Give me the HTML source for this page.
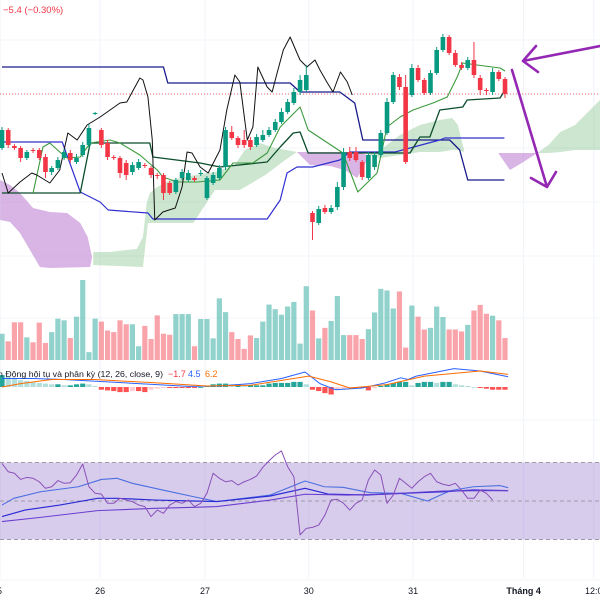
<!DOCTYPE html>
<html><head><meta charset="utf-8"><style>
html,body{margin:0;padding:0;background:#fff;}
svg{display:block;font-family:"Liberation Sans","Noto Sans CJK SC",sans-serif;}
</style></head><body>
<svg id="chart" width="600" height="600" viewBox="0 0 600 600" xmlns="http://www.w3.org/2000/svg">
<rect width="600" height="600" fill="#ffffff"/>
<g id="grid"></g>
<g id="clouds"></g>
<g id="lines"></g>
<g id="candles"></g>
<g id="volume"></g>
<g id="macd"></g>
<g id="rsi"></g>
<g id="axis"></g>
<text x="3" y="13" font-size="9.5" fill="#f23645">−5.4 (−0.30%)</text>
<g stroke="#9427b3" stroke-width="2.6" fill="none" stroke-linecap="round">
<path d="M600 46 L523 61 M523 61 L536 46 M523 61 L538 72"/>
<path d="M512 70 L547 187 M547 187 L531 178 M547 187 L556 172"/>
</g>
</svg>
<script>
const opens=[152,170,154,152,142,150,150,143,128,132,142,147,138,145,155,186,170,157,143,142,137,128,132,135,132,125,125,117,108,122,120,122,126,102,117,122,133,168,162,160,160,155,160,165,170,178,188,197,208,210,87,77,92,88,93,113,148,148,138,122,133,145,167,198,223,213,205,232,220,207,227,250,263,247,235,232,240,222,210,208,228,221];
const closes=[170,155,152,142,148,149,142,128,132,140,148,140,142,155,172,187,155,143,142,127,125,135,138,134,125,124,107,107,120,128,127,120,127,122,125,132,170,162,155,155,153,163,165,170,178,188,198,208,220,225,78,91,88,92,113,148,142,140,123,145,145,167,198,225,213,138,232,220,207,227,250,263,247,235,232,240,225,210,209,228,221,206];
const highs=[173,172,156,154,150,152,152,146,134,143,151,150,146,158,176,188,172,160,145,144,140,138,141,137,134,127,127,119,122,131,130,124,130,124,128,135,173,174,164,170,163,166,170,173,181,192,201,212,225,235,89,94,95,95,118,152,153,153,140,148,148,170,202,228,226,225,236,235,222,230,253,266,265,250,238,243,258,225,212,232,230,223];
const lows=[150,152,150,138,140,147,140,122,125,130,140,137,136,143,152,185,152,140,140,122,120,125,130,132,122,121,100,105,106,120,118,118,124,100,115,120,130,160,152,152,150,153,158,163,168,176,186,195,205,208,60,75,86,86,90,110,139,138,120,120,130,143,165,196,210,136,203,218,205,205,225,248,245,233,230,230,222,205,205,205,219,202];
const volumes=[80,57,115,115,69,54,114,52,85,126,121,67,132,244,24,126,117,90,85,121,109,109,42,104,64,136,80,77,140,140,140,42,125,125,66,188,146,85,64,34,75,67,117,169,155,138,163,177,50,225,151,66,98,119,195,76,76,76,64,94,145,217,212,157,209,38,166,132,93,98,163,131,93,93,87,107,151,168,141,135,121,67];
const macdHist=[35,30,25,20,18,15,12,10,8,8,5,5,8,10,8,3,-8,-10,-12,-15,-15,-12,-12,-15,-8,-5,-3,-3,-3,-3,-3,-3,0,3,8,10,10,8,8,5,5,5,5,10,12,12,12,15,15,8,-8,-12,-18,-22,-8,-5,-3,-3,-3,-10,-3,3,8,12,15,15,5,12,15,15,12,15,15,8,5,3,0,-3,-5,-8,-8,-8];
const macdT=[0,5,10,20,30,35,40,45,48.8,51.2,53.7,58,61.7,64.2,65.4,66.7,72.8,77,81.5];
const macdVals=[25,25,22,12,2,3,10,25,44,10,-8,-3,12,27,22,32,54,47,30];
const signalT=[0,3,8,15,25,33,40,49.4,53,56,62,68,77,81.5];
const signalVals=[0,10,22,22,12,3,5,32,15,-3,7,32,47,37];
const rsiVals=[69.5,65.2,64.4,61.2,62.3,61.8,60,56.6,57.4,60.6,59.2,59.5,63.5,69.2,57.4,54,53.6,48.8,48.8,51.4,50.5,49.7,47.9,47.1,41.9,45.3,43.6,47.9,49.7,48.8,50.5,47.1,48.8,54,64.4,61.8,60,60.6,58.3,60,61.2,63,67.5,70.9,73.9,76,67.8,62.6,32.4,35.8,36.3,37.5,42.7,50.5,50.9,48.8,45.3,48.8,50.5,60.9,66.1,63.5,48.8,53.1,61.8,59.2,56.6,60,62.6,64.4,60,58.7,58,59.2,55.7,51.4,51.4,55.7,54,50.5];
const rsiMa1T=[0,1.9,6.2,12.3,16,18.5,21,25.9,30.9,34.6,43.2,48.8,51.9,54.9,59.3,64.2,68.5,72.2,75.9,80.2,81.5];
const rsiMa1=[47.9,51.4,54.8,57.4,61.2,61.8,59.2,55.7,52.2,49.7,53.1,60.4,57.4,57.1,54.3,54,50,55.4,57.4,58,56.9];
const rsiMa2T=[0,3.7,9.3,15.4,18.5,24.7,30.9,34.6,43.2,48.8,52.5,58.6,64.8,71,75.9,81.5];
const rsiMa2=[41.9,45.3,47.9,51.4,51.4,50.5,50,49.7,52.6,56.6,53.6,53.1,54,54.8,55.7,55.4];
const rsiMa3T=[0,6.2,15.4,24.7,30.9,34.6,43.2,48.8,55.6,61.7,71,81.5];
const rsiMa3=[39.3,41.5,45,46.2,46.7,47.1,50.5,53.5,53.1,53.6,55.2,55.4];
const navyT=[0,26,26.7,46.4,48,54.4,56.8,58.1,72.1,73.7,75,80.9];
const navyVals=[233,233,217,217,208,208,197,160,160,150,120,120];
const blueT=[0,9.7,12.6,15.8,17.1,23.5,24.3,42.7,44.8,45.9,47.5,50,54.4,56,63.3,70.5,71.3,80.9];
const blueVals=[158,158,108,98,90,87,81,81,100,127,133,133,140,148,148,160,162,162];
const kijunT=[0,12.6,14.2,23.8,24.3,31.9,35.1,42.7,44.8,46.9,48,49.3,65.7,67.3,68.9,70.5,74.2,74.9,80.2,81];
const kijunVals=[107,107,157,157,143,137,133,138,153,167,168,147,147,163,163,190,193,200,202,210];
const tenkanT=[5,6.6,7.7,9.3,10.5,12.6,14.2,17.4,19,22.2,25,25.9,28.2,31.4,35.1,37.2,40.4,42.7,44.8,46.4,48,49.3,54.9,57.3,60.4,62,64.1,66.2,69.4,71.7,73.3,74.2,76.5,80.2,81];
const tenkanVals=[107,153,157,148,142,143,157,160,157,145,130,123,118,118,120,137,137,147,173,183,193,170,147,108,127,173,183,190,197,203,223,237,235,232,229];
const lagT=[0,1,2.9,4.8,5.6,7.7,9.3,10.6,12.1,13.7,15.8,19,20.1,22.2,22.7,23.5,24.2,24.6,25.9,27.9,29,29.8,30.6,31.9,33.2,35.1,36.2,37.5,38.3,39.5,40.4,41.2,42.7,43.5,44.3,45.3,46.4,47.5,48,49.1,50.4,51.2,52.4,53.3,54.5,55.6,56.4];
const lagVals=[127,107,118,127,125,117,130,167,160,175,183,197,198,222,220,203,160,80,88,92,113,148,147,133,127,150,190,225,218,160,173,233,213,208,227,250,263,247,240,233,240,230,217,208,228,218,205];
const cloudP1T=[-0.3,1.3,2.9,5,7.7,10.5,12.6,13.8,14.5], cloudP1Top=[120,115,107,92,88,87,77,63,43];
const cloudP1BT=[-0.3,1.3,2.9,4.5,6.1,7.7,14.2,14.5], cloudP1Bot=[80,78,67,50,33,32,33,43];
const cloudG1T=[14.7,17.4,20.1,21.7,22.7,23.3,23.8,25,27.1,31.1,34.3,37.5,39.1,41.5,44,47.5], cloudG1Top=[48,48,50,51,63,97,107,113,120,125,128,135,150,157,152,148];
const cloudG1BT=[14.7,22.7,23.5,30.8,34.3,38.3,42.4,45.6,47.5], cloudG1Bot=[35,33,77,77,110,110,125,140,148];
const cloudP2T=[47.5,49.6,52.8,55.2,57.2,58.8], cloudP2Top=[148,148,148,148,148,145], cloudP2Bot=[148,135,134,130,122,140];
const cloudG2T=[58.8,60.9,64.1,67.3,70.5,72.5,73.4,74.4], cloudG2Top=[145,150,165,175,180,182,175,150], cloudG2Bot=[145,142,145,148,148,150,150,148];
const cloudP3T=[79.9,81.8,83.7,86.2], cloudP3Top=[147,147,147,147], cloudP3Bot=[147,130,137,147];
const cloudG3T=[86.2,88,89.9,92.3,94.7,96.3], cloudG3Top=[147,155,168,175,190,200], cloudG3Bot=[147,147,148,150,150,150];
const lastPrice=206;
const tickLabels=["5","26","27","30","31","Tháng 4","12:0"];
const tickTimes=[-0.3,15.8,32.7,49.4,66.2,84,95.3];

const NS="http://www.w3.org/2000/svg";
const xT=t=>2+t*6.21;
const yP=p=>300-p;
const yV=v=>360-v*0.328;
const yM=v=>387-v*0.34;
const yR=r=>501-(r-50)*1.925;
function mk(tag,attrs,parent){const e=document.createElementNS(NS,tag);for(const k in attrs)e.setAttribute(k,attrs[k]);parent.appendChild(e);return e;}
const G=id=>document.getElementById(id);

const grid=G('grid');
tickTimes.forEach(t=>{const l=mk('line',{x1:xT(t),x2:xT(t),y1:0,y2:578,stroke:'#f0f3fa','stroke-width':1},grid);

});
[40,94,148,202,256,318,420,580].forEach(y=>{const l=mk('line',{x1:0,x2:600,y1:y,y2:y,stroke:'#f3f5f9','stroke-width':1},grid);

});

const clouds=G('clouds');
function cloud(ts,top,bts,bot,fill,name){
  let d='M'+ts.map((t,i)=>xT(t)+' '+yP(top[i])).join(' L');
  for(let i=bts.length-1;i>=0;i--)d+=' L'+xT(bts[i])+' '+yP(bot[i]);
  const p=mk('path',{d:d+'Z',fill:fill},clouds);
  
  
}
const PUR='rgba(186,120,208,0.55)',GRN='rgba(120,190,130,0.38)';
cloud(cloudP1T,cloudP1Top,cloudP1BT,cloudP1Bot,PUR,'cloud-bearish-1');
cloud(cloudG1T,cloudG1Top,cloudG1BT,cloudG1Bot,GRN,'cloud-bullish-1');
cloud(cloudP2T,cloudP2Top,cloudP2T,cloudP2Bot,PUR,'cloud-bearish-2');
cloud(cloudG2T,cloudG2Top,cloudG2T,cloudG2Bot,GRN,'cloud-bullish-2');
cloud(cloudP3T,cloudP3Top,cloudP3T,cloudP3Bot,PUR,'cloud-bearish-3');
cloud(cloudG3T,cloudG3Top,cloudG3T,cloudG3Bot,GRN,'cloud-bullish-3');

const pl=mk('line',{x1:0,x2:600,y1:yP(lastPrice),y2:yP(lastPrice),stroke:'#f23645','stroke-width':0.8,'stroke-dasharray':'1 2'},G('lines'));



function poly(parent,ts,vals,ys,color,w,name){
  const p=mk('polyline',{points:ts.map((t,i)=>xT(t)+','+ys(vals[i])).join(' '),fill:'none',stroke:color,'stroke-width':w,'stroke-linejoin':'round'},parent);
  
  
}
const L=G('lines');
poly(L,navyT,navyVals,yP,'#1a1a8c',1.3,'upper-band-line');
poly(L,blueT,blueVals,yP,'#3030d0',1.2,'lower-band-line');
poly(L,kijunT,kijunVals,yP,'#0b4d2c',1.3,'kijun-line');
poly(L,tenkanT,tenkanVals,yP,'#3d9a3d',1.1,'tenkan-line');
poly(L,lagT,lagVals,yP,'#111111',1,'lagging-span');

const C=G('candles');
opens.forEach((o,i)=>{
  const c=closes[i],up=c>=o,col=up?'#089981':'#f23645',x=xT(i);
  const w=mk('line',{x1:x,x2:x,y1:yP(highs[i]),y2:yP(lows[i]),stroke:col,'stroke-width':1},C);
  
  
  const top=yP(Math.max(o,c)),h=Math.max(1,Math.abs(yP(o)-yP(c)));
  const b=mk('rect',{x:x-2.3,y:top,width:4.6,height:h,fill:col},C);
  
  
});

const V=G('volume');
volumes.forEach((v,i)=>{
  const up=closes[i]>=opens[i];
  const r=mk('rect',{x:xT(i)-2.6,y:yV(v),width:5.2,height:360-yV(v),fill:up?'rgba(38,166,154,0.5)':'rgba(242,54,69,0.45)'},V);
  
  
});

const M=G('macd');
macdHist.forEach((v,i)=>{
  const prev=i?macdHist[i-1]:v;
  let col;
  if(v>=0)col=v>=prev?'#26a69a':'#b2dfdb';else col=v<=prev?'#ff5252':'#ffcdd2';
  const y=Math.min(yM(v),yM(0)),h=Math.max(0.8,Math.abs(yM(v)-yM(0)));
  const r=mk('rect',{x:xT(i)-2.6,y:y,width:5.2,height:h,fill:col},M);
  
  
});
poly(M,macdT,macdVals,yM,'#2962ff',1,'macd-line');
poly(M,signalT,signalVals,yM,'#ff6d00',1,'signal-line');
const ml=mk('text',{x:-2,y:377,'font-size':8.5,fill:'#131722',textLength:165,lengthAdjust:'spacingAndGlyphs'},M);
ml.textContent='n Động hội tụ và phân kỳ (12, 26, close, 9)';


[['−1.7','#f23645',168],['4.5','#2962ff',188],['6.2','#ff6d00',205]].forEach(a=>{
  const t=mk('text',{x:a[2],y:377,'font-size':9,fill:a[1]},M);t.textContent=a[0];
  
  
});

const R=G('rsi');
const band=mk('rect',{x:0,y:yR(70),width:600,height:yR(30)-yR(70),fill:'rgba(126,87,194,0.3)'},R);


[70,50,30].forEach(v=>{const l=mk('line',{x1:0,x2:600,y1:yR(v),y2:yR(v),stroke:'#9e9aa6','stroke-width':1,'stroke-dasharray':'4 3'},R);

});
poly(R,rsiMa1T,rsiMa1,yR,'#4a6fe0',1.1,'rsi-ma-fast');
poly(R,rsiMa2T,rsiMa2,yR,'#2a2ad6',1.2,'rsi-ma-mid');
poly(R,rsiMa3T,rsiMa3,yR,'#6a3fd0',1.1,'rsi-ma-slow');
poly(R,rsiVals.map((v,i)=>i),rsiVals,yR,'#8a50b8',1,'rsi-line');

const A=G('axis');
tickLabels.forEach((s,i)=>{
  const t=mk('text',{x:xT(tickTimes[i]),y:594,'font-size':9,fill:'#131722','text-anchor':i==0?'start':'middle','font-weight':s.startsWith('Th')?'bold':'normal'},A);
  if(i==0)t.setAttribute('x',-3);
  t.textContent=s;
  
  
});
</script>
</body></html>
